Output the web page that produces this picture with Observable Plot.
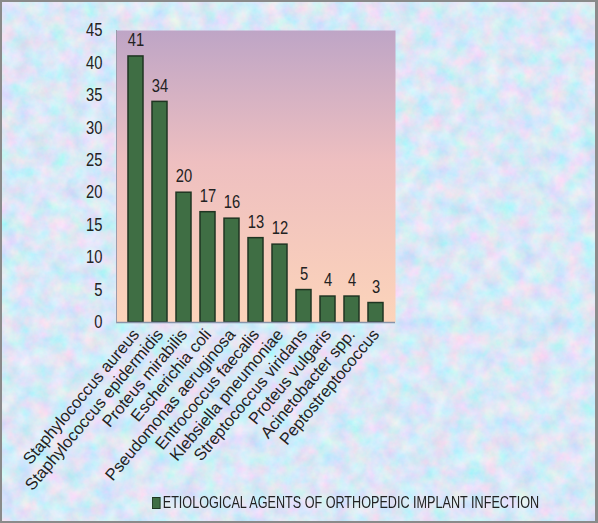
<!DOCTYPE html>
<html>
<head>
<meta charset="utf-8">
<script src="https://cdn.jsdelivr.net/npm/d3@7"></script>
<script src="https://cdn.jsdelivr.net/npm/@observablehq/plot@0.6"></script>
<style>
  body { margin: 0; }
  #wrap { position: relative; width: 598px; height: 523px; overflow: hidden; }
  #bg { position: absolute; left: 0; top: 0; }
  #chart { position: absolute; left: 0; top: 0; }
  #border { position: absolute; left: 0; top: 0; width: 598px; height: 523px; box-sizing: border-box; border: 2px solid #8a8a8a; border-right-width: 3px; pointer-events: none; }
  #legend { position: absolute; left: 152px; top: 493px; font-family: "Liberation Sans", Arial, sans-serif; font-size: 16.5px; color: #222; white-space: nowrap; transform: scaleX(0.765); transform-origin: 0 0; }
  #legend .sw { display: inline-block; width: 9px; height: 10px; background: #3f6e44; border: 1px solid #1f3522; margin-right: 3px; vertical-align: -1px; }
</style>
</head>
<body>
<div id="wrap">
  <svg id="bg" width="598" height="523">
    <defs>
      <filter id="tex" x="0" y="0" width="100%" height="100%">
        <feTurbulence type="fractalNoise" baseFrequency="0.06" numOctaves="4" seed="7"/>
        <feColorMatrix type="matrix" values="0.7 -0.3 0 0 0.52  0 0.4 0 0 0.63  -0.1 0 0.25 0 0.86  0 0 0 0 1"/>
      </filter>
    </defs>
    <rect width="598" height="523" fill="#c4d4f2"/>
    <rect width="598" height="523" filter="url(#tex)" opacity="0.9"/>
  </svg>
  <div id="chart"></div>
  <div id="legend"><span class="sw"></span>ETIOLOGICAL AGENTS OF ORTHOPEDIC IMPLANT INFECTION</div>
  <div id="border"></div>
</div>
<script>
const categories = [
  "Staphylococcus aureus",
  "Staphylococcus epidermidis",
  "Proteus mirabilis",
  "Escherichia coli",
  "Pseudomonas aeruginosa",
  "Entrococcus faecalis",
  "Klebsiella pneumoniae",
  "Streptococcus viridans",
  "Proteus vulgaris",
  "Acinetobacter spp.",
  "Peptostreptococcus"
];
const values = [41, 34, 20, 17, 16, 13, 12, 5, 4, 4, 3];
const yTicks = [0, 5, 10, 15, 20, 25, 30, 35, 40, 45];

const data = categories.map((c, i) => ({name: c, value: values[i]}));
const sans = '"Liberation Sans", Arial, sans-serif';

const gradientDefs = () => {
  const defs = d3.create("svg:defs");
  const g = defs.append("linearGradient").attr("id", "plotbg").attr("x1", 0).attr("y1", 0).attr("x2", 0).attr("y2", 1);
  g.append("stop").attr("offset", "0%").attr("stop-color", "#bea5c6");
  g.append("stop").attr("offset", "45%").attr("stop-color", "#eebfc0");
  g.append("stop").attr("offset", "100%").attr("stop-color", "#fcd4ba");
  return defs.node();
};

const chart = Plot.plot({
  width: 598,
  height: 523,
  marginLeft: 116,
  marginRight: 203,
  marginTop: 30,
  marginBottom: 201,
  style: { background: "transparent", color: "#222", fontFamily: sans },
  x: { domain: categories, padding: 0.37, label: null },
  y: { domain: [0, 45], ticks: yTicks, label: null },
  marks: [
    gradientDefs,
    Plot.frame({ fill: "url(#plotbg)", stroke: null }),
    Plot.axisY({ ticks: yTicks, tickSize: 0, tickPadding: 14, fontSize: 18, label: null }),
    Plot.axisX({ tickRotate: -50, tickSize: 0, tickPadding: 9, fontSize: 16.5, label: null }),
    Plot.barY(data, { x: "name", y: "value", fill: "#3f6e44", stroke: "#1f3522", strokeWidth: 1.5 }),
    Plot.text(data, { x: "name", y: "value", text: d => String(d.value), dy: -16, fontSize: 18, fill: "#222" }),
    Plot.ruleY([0], { stroke: "#8894aa", strokeWidth: 1.5 }),
    Plot.frame({ anchor: "left", stroke: "#9a9aaa" })
  ]
});

// condense the numeric labels (Arial Narrow look)
const condense = (sel) => {
  chart.querySelectorAll(sel).forEach(t => {
    const tr = t.getAttribute("transform");
    if (tr) {
      t.setAttribute("transform", tr + " scale(0.82,1)");
    } else {
      const x = +t.getAttribute("x") || 0, y = +t.getAttribute("y") || 0;
      t.removeAttribute("x"); t.removeAttribute("y");
      t.setAttribute("transform", `translate(${x},${y}) scale(0.82,1)`);
    }
  });
};
condense('g[aria-label="y-axis tick label"] text');
condense('g[aria-label="text"] text');

document.getElementById("chart").appendChild(chart);
</script>
</body>
</html>
